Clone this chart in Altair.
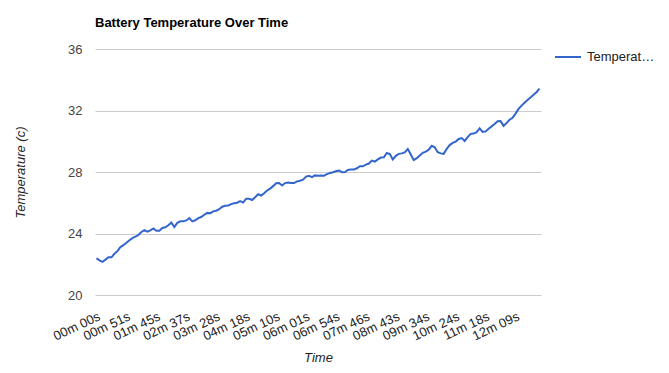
import altair as alt
import pandas as pd

# Temperature readings (°C), evenly spaced samples in time order
temps = [
    22.39, 22.25, 22.15, 22.30, 22.45, 22.45, 22.68, 22.85, 23.12, 23.24,
    23.40, 23.56, 23.70, 23.79, 23.90, 24.10, 24.22, 24.12, 24.20, 24.33,
    24.18, 24.18, 24.36, 24.40, 24.54, 24.72, 24.42, 24.69, 24.79, 24.80,
    24.85, 25.00, 24.79, 24.86, 25.00, 25.07, 25.22, 25.34, 25.32, 25.44,
    25.48, 25.58, 25.74, 25.80, 25.82, 25.91, 25.97, 26.00, 26.10, 26.01,
    26.26, 26.26, 26.18, 26.36, 26.55, 26.47, 26.62, 26.80, 26.92, 27.08,
    27.27, 27.28, 27.12, 27.28, 27.32, 27.29, 27.28, 27.39, 27.43, 27.50,
    27.70, 27.75, 27.67, 27.78, 27.76, 27.77,
    27.76, 27.86, 27.94, 27.98, 28.05, 28.10, 27.99, 28.00, 28.13, 28.17,
    28.17, 28.24, 28.38, 28.37, 28.48, 28.55, 28.74, 28.68, 28.82, 28.94,
    28.96, 29.24, 29.17, 28.82, 29.05, 29.18, 29.21, 29.27, 29.50, 29.14,
    28.77, 28.90, 29.08, 29.25, 29.33, 29.45, 29.70, 29.61, 29.29, 29.21,
    29.18, 29.50, 29.75, 29.89, 29.98, 30.15, 30.21, 30.02, 30.27, 30.48,
    30.50, 30.59, 30.84, 30.61, 30.64, 30.82, 30.97, 31.12, 31.30, 31.31,
    31.00, 31.18, 31.40, 31.52, 31.80, 32.10, 32.32, 32.50, 32.68, 32.84,
    33.03, 33.19, 33.42,
]

# Time tick labels (one every LABEL_STEP samples)
time_labels = [
    "00m 00s", "00m 51s", "01m 45s", "02m 37s", "03m 28s", "04m 18s",
    "05m 10s", "06m 01s", "06m 54s", "07m 46s", "08m 43s", "09m 34s",
    "10m 24s", "11m 18s", "12m 09s",
]
LABEL_STEP = 10
series_name = "Temperature"
y_ticks = [20, 24, 28, 32, 36]

df = pd.DataFrame({
    "i": list(range(len(temps))),
    "temp": temps,
    "series": [series_name] * len(temps),
})

FONT = "Liberation Sans"
n = len(temps)
label_js = "[" + ",".join("'" + s + "'" for s in time_labels) + "]"

chart = alt.Chart(df).mark_line(strokeWidth=2).encode(
    x=alt.X(
        "i:Q",
        scale=alt.Scale(domain=[-0.5, n - 0.5], nice=False, zero=False),
        axis=alt.Axis(
            title="Time",
            values=[k * LABEL_STEP for k in range(len(time_labels))],
            labelExpr=label_js + "[round(datum.value / " + str(LABEL_STEP) + ")]",
            labelAngle=-25,
            labelAlign="right",
            labelBaseline="top",
            labelPadding=15,
            labelFontSize=13,
            labelColor="#222222",
            labelFont=FONT,
            labelOverlap=False,
            labelFlush=False,
            ticks=False,
            domain=False,
            grid=False,
            titleFont=FONT,
            titleFontSize=13,
            titleFontStyle="italic",
            titleFontWeight="normal",
            titleColor="#222222",
            titleX=223,
            titleY=62,
            titleAlign="center",
            titleBaseline="middle",
        ),
    ),
    y=alt.Y(
        "temp:Q",
        scale=alt.Scale(domain=[20, 36], nice=False, zero=False),
        axis=alt.Axis(
            title="Temperature (c)",
            values=y_ticks,
            format="d",
            labelPadding=13,
            labelFontSize=13,
            labelColor="#444444",
            labelFont=FONT,
            ticks=False,
            domain=False,
            grid=True,
            gridColor="#cccccc",
            gridWidth=1,
            titleFont=FONT,
            titleFontSize=13,
            titleFontStyle="italic",
            titleFontWeight="normal",
            titleColor="#222222",
            titleAngle=-90,
            titleX=-75,
            titleY=123,
            titleAlign="center",
            titleBaseline="middle",
        ),
    ),
    color=alt.Color(
        "series:N",
        scale=alt.Scale(range=["#3366cc"]),
        legend=alt.Legend(
            title=None,
            orient="none",
            legendX=459,
            legendY=-6,
            symbolType="stroke",
            symbolSize=676,
            symbolStrokeWidth=2,
            labelFont=FONT,
            labelFontSize=13,
            labelColor="#222222",
            labelLimit=70,
            labelOffset=5,
            padding=0,
        ),
    ),
).properties(
    width=446,
    height=246,
    title=alt.Title(
        "Battery Temperature Over Time",
        anchor="start",
        frame="group",
        baseline="alphabetic",
        offset=3,
        font=FONT,
        fontSize=13,
        fontWeight="bold",
        color="#000000",
    ),
    autosize=alt.AutoSizeParams(type="none"),
    padding={"left": 87, "top": 41, "right": 120, "bottom": 70},
).configure_view(stroke=None)

chart.save("out.html", embed_options={"renderer": "svg", "actions": False})
